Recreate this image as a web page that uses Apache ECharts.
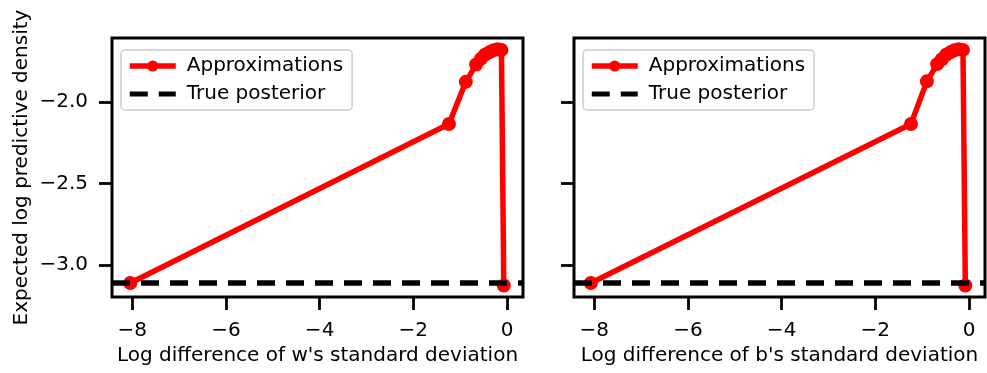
<!DOCTYPE html>
<html>
<head>
<meta charset="utf-8">
<script src="https://cdn.jsdelivr.net/npm/echarts@6/dist/echarts.min.js"></script>
<style>html,body{margin:0;padding:0;background:#fff}#c{width:987px;height:373px}</style>
</head>
<body>
<div id="c"></div>
<script>
// Data
const wX = [-8.04, -1.24, -0.88, -0.66, -0.56, -0.47, -0.38, -0.29, -0.20, -0.12, -0.07];
const wY = [-3.11, -2.135, -1.876, -1.77, -1.735, -1.71, -1.695, -1.682, -1.676, -1.68, -3.125];
const bX = [-8.07, -1.24, -0.90, -0.68, -0.58, -0.49, -0.40, -0.31, -0.22, -0.13, -0.08];
const bY = [-3.11, -2.135, -1.873, -1.767, -1.737, -1.71, -1.695, -1.682, -1.676, -1.68, -3.125];
const truePosterior = -3.11;
const xTicks = [-8, -6, -4, -2, 0];
const yTicks = [-3.0, -2.5, -2.0];
const xMin = -8.43, xMax = 0.34;
const yMin = -3.196, yMax = -1.607;
const xNames = ["Log difference of w's standard deviation", "Log difference of b's standard deviation"];
const yName = 'Expected log predictive density';
const seriesNames = ['Approximations', 'True posterior'];

const FONT = 'DejaVu Sans';
const FS = 20;
const minus = v => (v < 0 ? '\u2212' : '') + Math.abs(v);
const zip = (a, b) => a.map((v, i) => [v, b[i]]);

const grids = [
  {left: 112, top: 38, width: 411, height: 259},
  {left: 574, top: 38, width: 411, height: 259}
];
const xAxes = [0, 1].map(i => ({
  type: 'value', gridIndex: i, min: xMin, max: xMax,
  name: xNames[i], nameLocation: 'middle', nameGap: 48,
  nameTextStyle: {fontFamily: FONT, fontSize: FS, color: '#000'},
  axisLine: {show: false, onZero: false},
  axisTick: {show: true, customValues: xTicks, length: 13, lineStyle: {color: '#000', width: 2.8}},
  axisLabel: {customValues: xTicks, margin: 24, fontFamily: FONT, fontSize: FS, color: '#000', formatter: v => minus(v)},
  splitLine: {show: false}
}));
const yAxes = [0, 1].map(i => ({
  type: 'value', gridIndex: i, min: yMin, max: yMax,
  name: i === 0 ? yName : '', nameLocation: 'middle', nameGap: 80,
  nameTextStyle: {fontFamily: FONT, fontSize: FS, color: '#000'},
  axisLine: {show: false, onZero: false},
  axisTick: {show: true, customValues: yTicks, length: 13, lineStyle: {color: '#000', width: 2.8}},
  axisLabel: {show: i === 0, customValues: yTicks, margin: 24, fontFamily: FONT, fontSize: FS, color: '#000',
    formatter: v => (v < 0 ? '\u2212' : '') + Math.abs(v).toFixed(1)},
  splitLine: {show: false}
}));

const series = [];
[[wX, wY], [bX, bY]].forEach((d, i) => {
  series.push({
    name: seriesNames[0], type: 'line', xAxisIndex: i, yAxisIndex: i,
    data: zip(d[0], d[1]), symbol: 'circle', symbolSize: 14, showSymbol: true,
    lineStyle: {color: '#ff0000', width: 5.5}, itemStyle: {color: '#ff0000'},
    z: 2, animation: false, silent: true
  });
  series.push({
    name: seriesNames[1], type: 'line', xAxisIndex: i, yAxisIndex: i,
    data: [[xMin, truePosterior], [xMax, truePosterior]], symbol: 'none',
    lineStyle: {color: '#000', width: 5.5, type: [18, 11]}, itemStyle: {color: '#000'},
    z: 3, animation: false, silent: true
  });
});

const legendBase = {
  orient: 'vertical', top: 50, itemWidth: 46, itemHeight: 14, itemGap: 8,
  padding: [6, 9, 6, 6],
  backgroundColor: 'rgba(255,255,255,0.8)', borderColor: '#cccccc', borderWidth: 1.5, borderRadius: 4,
  textStyle: {fontFamily: FONT, fontSize: FS, color: '#000', lineHeight: 20, padding: [0, 0, 0, 6]},
  data: [
    {name: seriesNames[0], lineStyle: {width: 5.5, color: '#ff0000'}, itemStyle: {color: '#ff0000'}},
    {name: seriesNames[1], icon: 'path://M0,0H18V5H0Z M29,0H46V5H29Z', itemStyle: {color: '#000'}}
  ],
  selectedMode: false
};

const chart = echarts.init(document.getElementById('c'), null, {renderer: 'canvas'});
chart.setOption({
  animation: false,
  backgroundColor: '#fff',
  grid: grids.map(g => Object.assign({show: true, borderColor: '#000', borderWidth: 3, backgroundColor: 'transparent'}, g)),
  xAxis: xAxes,
  yAxis: yAxes,
  legend: [Object.assign({left: 121}, legendBase), Object.assign({left: 583}, legendBase)],
  series: series
});
</script>
</body>
</html>
